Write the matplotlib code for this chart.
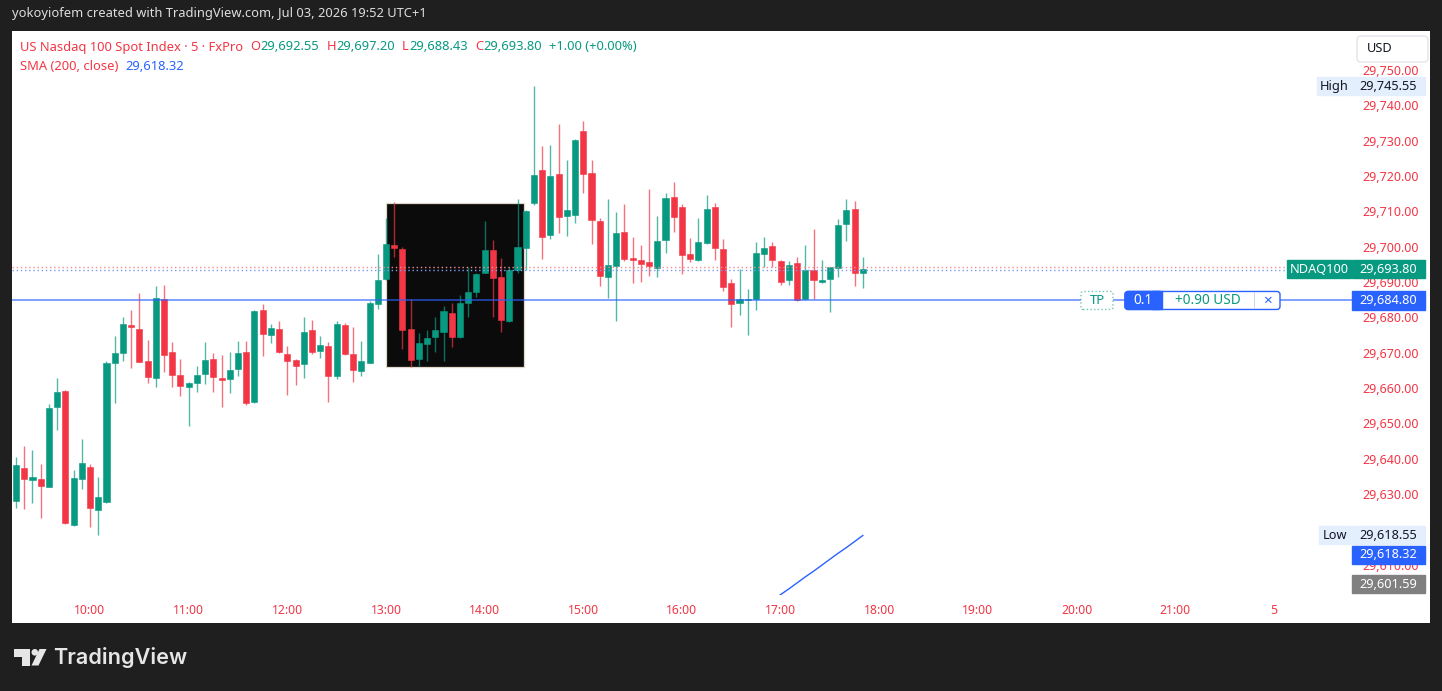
import matplotlib
matplotlib.use("Agg")
import matplotlib.pyplot as plt
from matplotlib.patches import Rectangle, FancyBboxPatch, Polygon, Circle
from matplotlib.transforms import IdentityTransform
import numpy as np
import pandas as pd

plt.rcParams['font.family'] = ['Noto Sans', 'DejaVu Sans']

W, H = 1442, 691
RED = '#f23645'
GREEN = '#089981'
BLUE = '#2962ff'

# 5 minute bars, NDAQ100, first bar 09:15
first_bar = "2026-07-03 09:15"
opens = [29628.2, 29637.3, 29634.0, 29634.2, 29632.0, 29654.6, 29659.2, 29621.3, 29634.4, 29637.6,
         29625.5, 29627.8, 29667.2, 29669.9, 29677.8, 29676.8, 29667.8, 29662.9, 29685.1, 29670.2,
         29663.6, 29660.2, 29661.5, 29664.0, 29668.3, 29663.0, 29662.5, 29665.5, 29670.2, 29656.1,
         29682.0, 29675.1, 29676.8, 29669.7, 29668.0, 29666.7, 29676.5, 29670.6, 29671.8, 29663.4,
         29677.9, 29669.6, 29664.9, 29667.2, 29683.8, 29690.8, 29700.5, 29699.4, 29676.7, 29668.2,
         29672.4, 29674.5, 29675.8, 29681.3, 29674.5, 29684.2, 29687.3, 29692.7, 29699.0, 29691.4,
         29679.0, 29693.4, 29699.6, 29712.5, 29721.6, 29703.2, 29720.7, 29708.6, 29709.1, 29732.7,
         29720.9, 29707.3, 29691.4, 29694.6, 29704.2, 29696.9, 29696.2, 29695.8, 29694.1, 29701.8,
         29714.0, 29711.2, 29698.0, 29696.2, 29701.0, 29711.2, 29699.4, 29689.8, 29684.0, 29684.8,
         29685.1, 29697.9, 29700.1, 29696.1, 29690.6, 29695.3, 29685.1, 29693.4, 29690.0, 29690.8,
         29694.0, 29706.4, 29710.7, 29692.55]
highs = [29640.6, 29643.6, 29642.4, 29638.6, 29655.5, 29662.8, 29659.5, 29636.8, 29645.5, 29638.6,
         29634.8, 29667.8, 29674.8, 29680.2, 29682.1, 29686.8, 29673.6, 29688.9, 29689.1, 29673.1,
         29668.2, 29661.6, 29666.2, 29673.1, 29669.9, 29669.3, 29670.1, 29673.3, 29673.3, 29682.0,
         29683.7, 29678.1, 29678.9, 29671.8, 29668.2, 29680.2, 29679.2, 29674.8, 29673.0, 29679.1,
         29678.4, 29677.3, 29673.4, 29684.7, 29697.9, 29708.0, 29712.6, 29700.0, 29685.1, 29675.5,
         29676.4, 29680.2, 29683.3, 29684.0, 29686.4, 29694.2, 29692.7, 29707.4, 29701.9, 29696.9,
         29694.2, 29713.4, 29710.5, 29745.55, 29728.6, 29728.8, 29734.7, 29724.5, 29730.4, 29735.5,
         29724.5, 29708.1, 29713.5, 29709.8, 29712.1, 29702.8, 29700.4, 29716.3, 29708.7, 29715.3,
         29718.2, 29712.1, 29702.6, 29708.0, 29714.6, 29712.3, 29702.1, 29690.8, 29693.6, 29688.0,
         29701.4, 29702.7, 29701.3, 29696.3, 29696.0, 29697.2, 29700.6, 29704.9, 29696.3, 29694.4,
         29707.8, 29713.5, 29712.9, 29697.20]
lows = [29626.2, 29625.7, 29627.6, 29623.4, 29632.0, 29648.2, 29621.7, 29621.1, 29631.6, 29620.8,
        29618.55, 29627.5, 29655.7, 29667.6, 29665.6, 29667.3, 29661.5, 29660.2, 29664.7, 29660.4,
        29657.9, 29649.4, 29658.8, 29661.2, 29658.8, 29654.8, 29658.7, 29663.4, 29655.2, 29655.8,
        29669.0, 29672.9, 29669.9, 29658.1, 29660.8, 29662.9, 29669.7, 29668.6, 29656.1, 29662.5,
        29669.5, 29661.8, 29663.5, 29667.0, 29682.4, 29690.6, 29697.0, 29671.0, 29665.9, 29666.4,
        29667.8, 29670.3, 29667.8, 29671.7, 29674.3, 29680.0, 29685.9, 29692.5, 29680.2, 29676.0,
        29678.8, 29692.5, 29693.4, 29711.9, 29696.4, 29702.1, 29704.0, 29703.1, 29706.8, 29715.1,
        29700.9, 29689.0, 29685.4, 29678.9, 29696.0, 29689.7, 29689.9, 29691.8, 29691.4, 29698.2,
        29704.1, 29692.2, 29695.6, 29696.0, 29700.8, 29696.2, 29687.6, 29677.2, 29680.6, 29675.1,
        29682.1, 29694.2, 29694.2, 29689.1, 29689.1, 29684.6, 29684.8, 29685.3, 29689.8, 29681.5,
        29691.5, 29701.6, 29688.9, 29688.43]
closes = [29638.3, 29634.2, 29635.0, 29632.4, 29654.4, 29658.9, 29621.9, 29634.7, 29638.8, 29626.0,
          29629.1, 29667.1, 29669.9, 29678.1, 29677.4, 29667.5, 29663.2, 29685.4, 29669.3, 29663.8,
          29660.6, 29661.4, 29663.8, 29668.0, 29663.1, 29662.2, 29665.2, 29670.0, 29655.9, 29681.7,
          29675.4, 29676.9, 29670.1, 29667.7, 29666.3, 29675.9, 29670.1, 29672.1, 29663.5, 29678.1,
          29669.7, 29665.2, 29667.8, 29684.0, 29690.6, 29700.8, 29699.6, 29676.5, 29668.0, 29672.7,
          29674.3, 29676.4, 29681.7, 29674.6, 29684.0, 29687.2, 29692.2, 29699.2, 29691.2, 29679.2,
          29693.4, 29700.0, 29710.2, 29720.4, 29702.8, 29720.0, 29708.3, 29710.3, 29730.2, 29720.7,
          29707.5, 29691.7, 29694.9, 29703.9, 29696.5, 29696.3, 29695.2, 29694.5, 29701.6, 29713.7,
          29708.4, 29697.8, 29696.5, 29701.3, 29710.7, 29699.6, 29688.5, 29683.8, 29685.1, 29685.0,
          29698.3, 29699.6, 29696.2, 29690.1, 29694.8, 29684.9, 29693.4, 29690.6, 29690.6, 29694.2,
          29706.2, 29710.3, 29692.55, 29693.80]

# SMA(200, close), only the tail reaches the visible range (16:55 .. 17:50)
sma_start = "2026-07-03 16:55"
sma_vals = [29599.9, 29601.6, 29603.2, 29604.9, 29606.6, 29608.2,
            29609.9, 29611.6, 29613.3, 29614.9, 29616.6, 29618.32]

tp_price = 29684.80
last_price = 29693.80
ask_price = 29694.4
bid_price = 29693.5
day_high = 29745.55
day_low = 29618.55
sma_last = 29618.32
other_price = 29601.59

# drawn rectangle (13:00 .. ~14:25)
box_t0, box_t1 = "2026-07-03 13:00", "2026-07-03 14:24"
box_lo, box_hi = 29666.1, 29712.3

time_labels = ["10:00", "11:00", "12:00", "13:00", "14:00", "15:00", "16:00",
               "17:00", "18:00", "19:00", "20:00", "21:00", "5"]

origin = pd.Timestamp("2026-07-03 10:00")


def bar_pos(ts):
    return (pd.Timestamp(ts) - origin) / pd.Timedelta("5min")


times = pd.date_range(first_bar, periods=len(opens), freq="5min")
xs = np.array([bar_pos(t) for t in times])
o = np.array(opens); hi = np.array(highs); lo = np.array(lows); c = np.array(closes)
up = c >= o
cols = np.where(up, GREEN, RED)

fig = plt.figure(figsize=(W / 100, H / 100), dpi=100, facecolor='#1f1f1f')
pix = IdentityTransform()
fig.add_artist(Rectangle((12, H - 623), 1418, 592, transform=pix, fc='white', ec='none', zorder=-10))

ax = fig.add_axes([12 / W, (H - 595) / H, 1340 / W, 564 / H])
ax.set_facecolor('none')
ax.set_xlim(-9.49, 153.5)
ax.set_ylim(29601.48, 29761.03)
for s in ax.spines.values():
    s.set_visible(False)

# black drawing box
bx0, bx1 = bar_pos(box_t0), bar_pos(box_t1)
ax.add_patch(Rectangle((bx0, box_lo), bx1 - bx0, box_hi - box_lo, fc='#0b0b0b',
                       ec='#ddd8c8', lw=0.9, zorder=1))

# candles
ax.vlines(xs, lo, hi, colors=cols, lw=1.0, alpha=0.7, zorder=2)
body_lo = np.minimum(o, c)
body_h = np.maximum(np.abs(c - o), 0.35)
ax.bar(xs, body_h, bottom=body_lo, width=0.74, color=cols, edgecolor=cols, lw=0.4, zorder=3)

# SMA
sma_x = [bar_pos(t) for t in pd.date_range(sma_start, periods=len(sma_vals), freq="5min")]
ax.plot(sma_x, sma_vals, color=BLUE, lw=1.0, zorder=4)

# price lines
ax.axhline(ask_price, color='#f58c95', lw=1.0, ls=(0, (1, 2)), zorder=4)
ax.axhline(bid_price, color='#7f9cf5', lw=1.0, ls=(0, (1, 2)), zorder=4)
ax.axhline(tp_price, color=BLUE, lw=1.2, alpha=0.7, zorder=4)

# axes ticks
hour_pos = [bar_pos(origin + pd.Timedelta(hours=h)) for h in range(len(time_labels))]
ax.set_xticks(hour_pos)
ax.set_xticklabels(time_labels)
ax.tick_params(axis='x', length=0, pad=6.5, labelcolor=RED, labelsize=8.8)
yt = np.arange(29610, 29751, 10)
ax.yaxis.tick_right()
ax.set_yticks(yt)
ax.set_yticklabels([f"{v:,.2f}" for v in yt])
ax.tick_params(axis='y', length=0, pad=7.5, labelcolor=RED, labelsize=9)
for v, lab in zip(yt, ax.get_yticklabels()):
    if v % 50 == 0:
        lab.set_fontweight('bold')


def ydisp(price):
    return ax.transData.transform((0, price))[1]


def tag(x0, x1, yc, text, fc, tc, ec=None, size=9.2, h=18):
    fig.add_artist(Rectangle((x0, yc - h / 2), x1 - x0, h, transform=pix, fc=fc,
                             ec=ec or fc, lw=1, zorder=5))
    fig.text((x0 + x1) / 2, yc - 0.5, text, transform=pix, color=tc, fontsize=size,
             ha='center', va='center', zorder=6)


# right scale labels
y_high = ydisp(day_high)
tag(1317, 1351, y_high, "High", '#e3effd', '#131722')
tag(1352, 1425, y_high, f"{day_high:,.2f}", '#e3effd', '#131722')
y_last = ydisp(last_price)
tag(1287, 1351, y_last, "NDAQ100", GREEN, 'white')
tag(1352, 1425, y_last, f"{last_price:,.2f}", GREEN, 'white')
y_tp = ydisp(tp_price)
tag(1352, 1425, y_tp, f"{tp_price:,.2f}", BLUE, 'white', h=19)
y_low = ydisp(day_low)
tag(1319, 1351, y_low, "Low", '#e3effd', '#131722')
tag(1352, 1425, y_low, f"{day_low:,.2f}", '#e3effd', '#131722')
tag(1352, 1425, H - 554.5, f"{sma_last:,.2f}", BLUE, 'white')
tag(1352, 1425, H - 584, f"{other_price:,.2f}", '#808080', 'white')

# TP order line widgets
fig.add_artist(FancyBboxPatch((1081, y_tp - 9), 32, 18, boxstyle="round,pad=0,rounding_size=2",
                              transform=pix, fc='white', ec='#6cc7b5', lw=1, ls=':', zorder=5))
fig.text(1097, y_tp - 0.5, "TP", transform=pix, color=GREEN, fontsize=9.5, ha='center', va='center', zorder=6)
fig.add_artist(FancyBboxPatch((1125, y_tp - 9), 155, 18, boxstyle="round,pad=0,rounding_size=3",
                              transform=pix, fc='white', ec=BLUE, lw=1, zorder=5))
fig.add_artist(FancyBboxPatch((1125, y_tp - 9), 37, 18, boxstyle="round,pad=0,rounding_size=3",
                              transform=pix, fc=BLUE, ec=BLUE, lw=1, zorder=5))
fig.add_artist(Rectangle((1152, y_tp - 9), 10, 18, transform=pix, fc=BLUE, ec=BLUE, lw=1, zorder=5))
fig.add_artist(Rectangle((1254, y_tp - 8), 0.8, 16, transform=pix, fc='#c9d6fb', ec='none', zorder=6))
fig.text(1143.5, y_tp - 0.5, "0.1", transform=pix, color='white', fontsize=9.8, ha='center', va='center', zorder=6)
fig.text(1208, y_tp - 0.5, "+0.90 USD", transform=pix, color=GREEN, fontsize=9.8, ha='center', va='center', zorder=6)
fig.text(1267, y_tp - 0.5, "×", transform=pix, color=BLUE, fontsize=11, ha='center', va='center', zorder=6)

# USD button
fig.add_artist(FancyBboxPatch((1357, H - 62), 71, 26, boxstyle="round,pad=0,rounding_size=4",
                              transform=pix, fc='white', ec='#e3e5ea', lw=1, zorder=5))
fig.text(1367, H - 49, "USD", transform=pix, color='#131722', fontsize=9.2, ha='left', va='center', zorder=6)

# top caption
fig.text(12, H - 14, "yokoyiofem created with TradingView.com, Jul 03, 2026 19:52 UTC+1",
         transform=pix, color='#dedede', fontsize=9.3, ha='left', va='center')

# legend lines
renderer = fig.canvas.get_renderer()


def text_row(x, y, parts, size=9.3):
    for txt, col, gap in parts:
        t = fig.text(x, y, txt, transform=pix, color=col, fontsize=size, ha='left', va='center', zorder=6)
        x = t.get_window_extent(renderer=renderer).x1 + gap


text_row(20, H - 47, [("US Nasdaq 100 Spot Index · 5 · FxPro", RED, 7),
                      ("O", RED, 0.5), (f"{opens[-1]:,.2f}", GREEN, 7),
                      ("H", RED, 0.5), (f"{highs[-1]:,.2f}", GREEN, 7),
                      ("L", RED, 0.5), (f"{lows[-1]:,.2f}", GREEN, 7),
                      ("C", RED, 0.5), (f"{closes[-1]:,.2f}", GREEN, 7),
                      ("+1.00 (+0.00%)", GREEN, 0)])
text_row(20, H - 66, [("SMA (200, close)", RED, 7), (f"{sma_last:,.2f}", BLUE, 0)])

# TradingView logo
logo = '#e6e6e6'
fig.add_artist(Polygon([(13.5, H - 649), (30, H - 649), (30, H - 665.5), (22, H - 665.5),
                        (22, H - 656.5), (13.5, H - 656.5)], closed=True, transform=pix, fc=logo, ec='none'))
fig.add_artist(Circle((34.8, H - 652.3), 3.3, transform=pix, fc=logo, ec='none'))
fig.add_artist(Polygon([(39.5, H - 649), (46.5, H - 649), (38.5, H - 665.5), (31.5, H - 665.5)],
                       closed=True, transform=pix, fc=logo, ec='none'))
fig.text(53, H - 657.5, "TradingView", transform=pix, color=logo, fontsize=15.6, fontweight='semibold',
         family=['Inter', 'DejaVu Sans'], ha='left', va='center')

fig.savefig("out.png", dpi=100, facecolor=fig.get_facecolor())
